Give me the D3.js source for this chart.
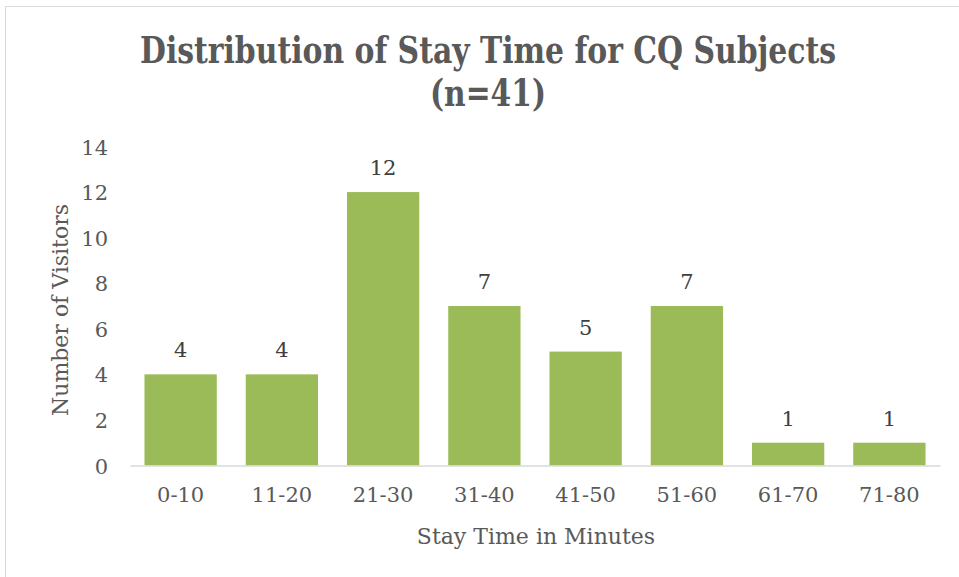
<!DOCTYPE html>
<html>
<head>
<meta charset="utf-8">
<script src="https://cdn.jsdelivr.net/npm/d3@7"></script>
<style>
  body { margin: 0; background: #fff; }
  text { font-family: "DejaVu Serif", "Liberation Serif", serif; fill: #595959; }
</style>
</head>
<body>
<script>
const categories = ['0-10', '11-20', '21-30', '31-40', '41-50', '51-60', '61-70', '71-80'];
const visitors = [4, 4, 12, 7, 5, 7, 1, 1];
const yTicks = [0, 2, 4, 6, 8, 10, 12, 14];
const titleLines = ['Distribution of Stay Time for CQ Subjects', '(n=41)'];

const svgWidth = 959;
const svgHeight = 577;
const plot = { left: 130, right: 940, top: 146.5, bottom: 465.5 };
const labelSize = '21px';
const axisTitleSize = '22px';

const svg = d3.select('body')
.append('svg')
.attr('width', svgWidth)
.attr('height', svgHeight)

// chart area border (runs off the right/bottom edges)
svg.append('rect')
.attr('x', 5.5)
.attr('y', 6.5)
.attr('width', svgWidth)
.attr('height', svgHeight)
.attr('fill', '#fff')
.attr('stroke', '#d9d9d9')
.attr('stroke-width', 1)

const x = d3.scaleBand()
.domain(categories)
.range([plot.left, plot.right])
.paddingInner(0.286)
.paddingOuter(0.143)

const y = d3.scaleLinear()
.domain([0, 14])
.range([plot.bottom, plot.top])

// title, condensed to match the original's narrow bold face
svg.append('text')
.attr('x', 488)
.attr('y', 62.5)
.attr('text-anchor', 'middle')
.attr('textLength', 696)
.attr('lengthAdjust', 'spacingAndGlyphs')
.style('font-family', '"DejaVu Serif Condensed", "DejaVu Serif", serif')
.style('font-size', '37px')
.style('font-weight', 'bold')
.text(titleLines[0])

svg.append('text')
.attr('x', 488)
.attr('y', 106)
.attr('text-anchor', 'middle')
.attr('textLength', 116)
.attr('lengthAdjust', 'spacingAndGlyphs')
.style('font-family', '"DejaVu Serif Condensed", "DejaVu Serif", serif')
.style('font-size', '37px')
.style('font-weight', 'bold')
.text(titleLines[1])

// y axis labels only
const yAxis = svg.append('g')
.attr('transform', `translate(${plot.left - 22}, 0)`)
.call(d3.axisLeft(y).tickValues(yTicks).tickSize(0).tickPadding(0))
yAxis.select('.domain').remove()
yAxis.selectAll('text')
.style('font-size', labelSize)
.attr('dy', '0.36em')

// bars
svg.append('g')
.selectAll('rect')
.data(visitors)
.join('rect')
.attr('x', (d, i) => x(categories[i]))
.attr('y', (d) => y(d))
.attr('width', x.bandwidth())
.attr('height', (d) => y(0) - y(d))
.attr('fill', '#9bbb59')

// value labels
svg.append('g')
.selectAll('text')
.data(visitors)
.join('text')
.attr('x', (d, i) => x(categories[i]) + x.bandwidth() / 2)
.attr('y', (d) => y(d) - 17)
.attr('text-anchor', 'middle')
.style('font-size', labelSize)
.style('fill', '#404040')
.text((d) => d)

// x axis
const xAxis = svg.append('g')
.attr('transform', `translate(0, ${plot.bottom})`)
.call(d3.axisBottom(x).tickSize(0).tickPadding(22))
xAxis.select('.domain')
.attr('stroke', '#d9d9d9')
.attr('stroke-width', 1.5)
xAxis.selectAll('text')
.style('font-size', labelSize)
.attr('dy', '0.71em')

// axis titles
svg.append('text')
.attr('x', 536)
.attr('y', 544)
.attr('text-anchor', 'middle')
.style('font-size', axisTitleSize)
.text('Stay Time in Minutes')

svg.append('text')
.attr('transform', `translate(68, 310) rotate(-90)`)
.attr('text-anchor', 'middle')
.style('font-size', axisTitleSize)
.text('Number of Visitors')
</script>
</body>
</html>
